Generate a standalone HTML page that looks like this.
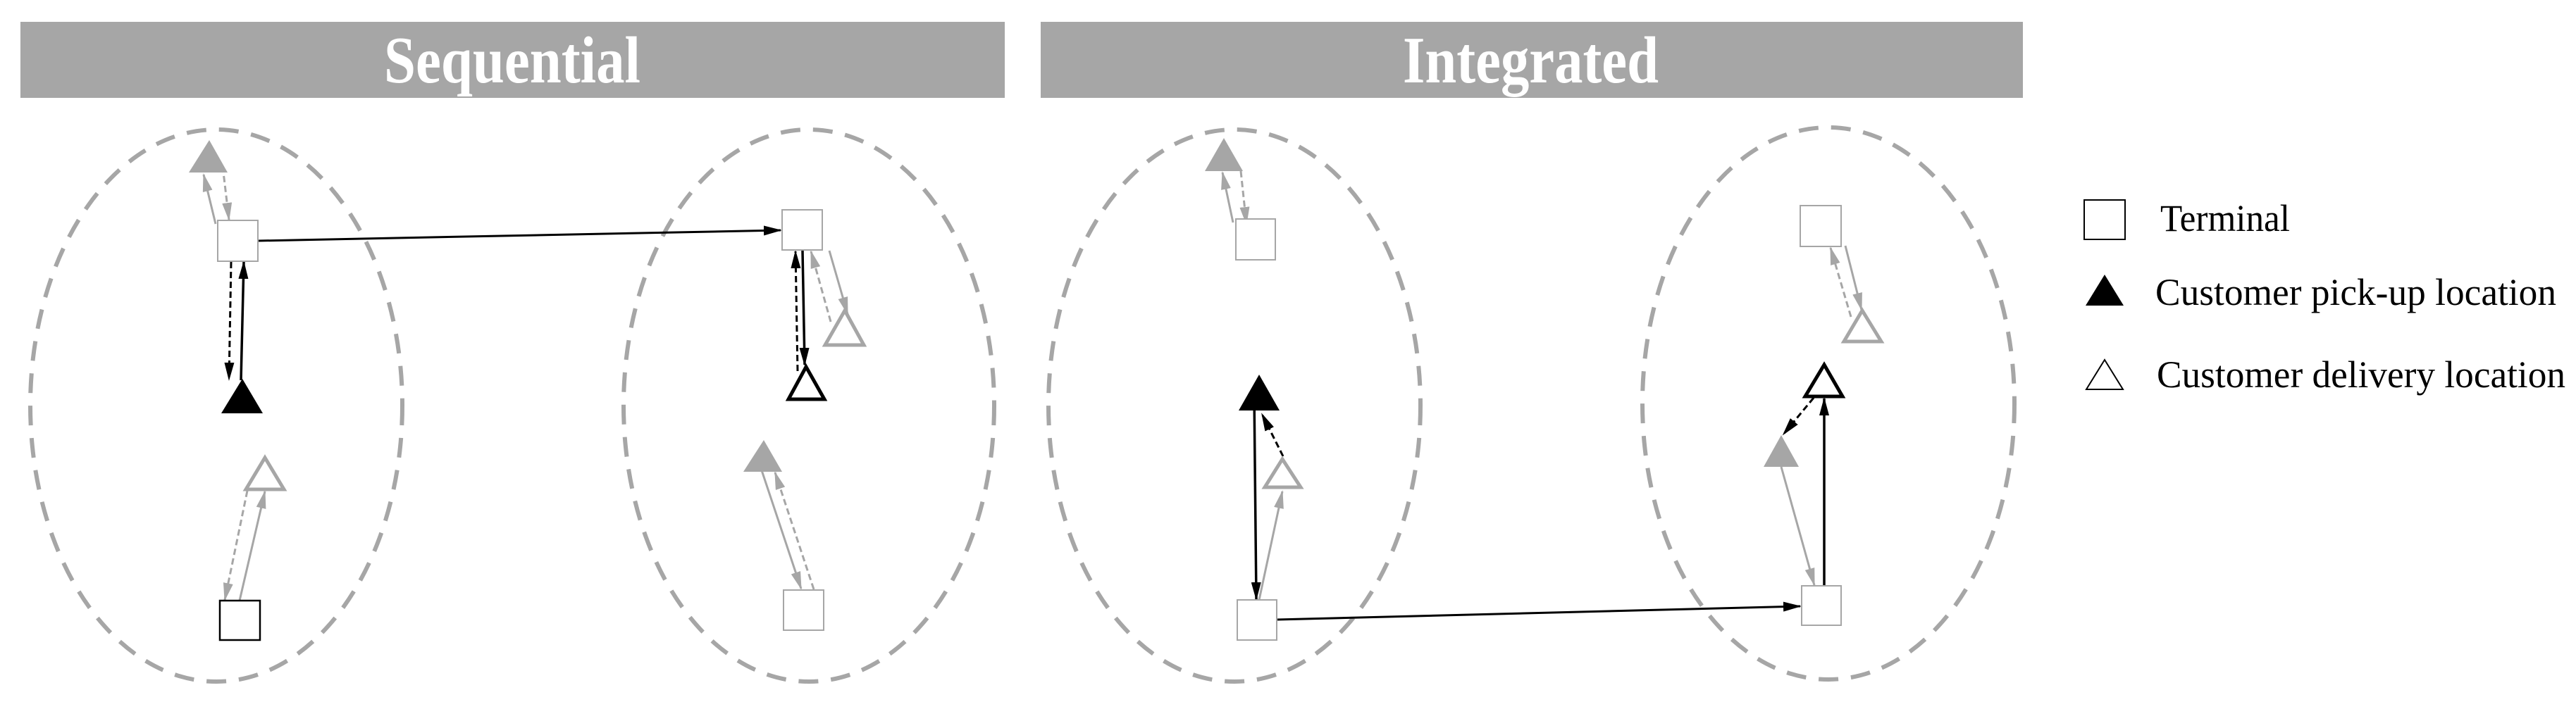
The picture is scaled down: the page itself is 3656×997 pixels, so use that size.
<!DOCTYPE html>
<html><head><meta charset="utf-8"><style>
html,body{margin:0;padding:0;background:#fff;}
svg{display:block;}
</style></head><body>
<svg width="3656" height="997" viewBox="0 0 3656 997" xmlns="http://www.w3.org/2000/svg">
<defs>
<marker id="ab" markerUnits="userSpaceOnUse" markerWidth="26" markerHeight="14" refX="24" refY="7" orient="auto"><path d="M0,0 L26,7 L0,14 Z" fill="#000"/></marker>
<marker id="ag" markerUnits="userSpaceOnUse" markerWidth="26" markerHeight="14" refX="24" refY="7" orient="auto"><path d="M0,0 L26,7 L0,14 Z" fill="#a6a6a6"/></marker>
</defs>
<rect x="29" y="31" width="1397" height="108" fill="#a6a6a6"/>
<rect x="1477" y="31" width="1394" height="108" fill="#a6a6a6"/>
<text x="545" y="117" textLength="364" lengthAdjust="spacingAndGlyphs" font-family="Liberation Serif, serif" font-weight="bold" font-size="94" fill="#fff">Sequential</text>
<text x="1991" y="117" textLength="363" lengthAdjust="spacingAndGlyphs" font-family="Liberation Serif, serif" font-weight="bold" font-size="94" fill="#fff">Integrated</text>

<g fill="none" stroke="#a6a6a6" stroke-width="6" stroke-dasharray="28,18">
<ellipse cx="307" cy="576" rx="264" ry="392"/>
<ellipse cx="1148" cy="576" rx="263" ry="392"/>
<ellipse cx="1752" cy="576" rx="264" ry="392"/>
<ellipse cx="2595" cy="573" rx="264" ry="392"/>
</g>

<!-- Sequential left -->
<line x1="306" y1="318" x2="289" y2="248" stroke="#a6a6a6" stroke-width="3" marker-end="url(#ag)"/>
<line x1="316" y1="236" x2="325" y2="312" stroke="#a6a6a6" stroke-width="3" stroke-dasharray="9,5" marker-end="url(#ag)"/>
<line x1="366" y1="342" x2="1108" y2="327" stroke="#000" stroke-width="3" marker-end="url(#ab)"/>
<line x1="328" y1="372" x2="325" y2="539" stroke="#000" stroke-width="3" stroke-dasharray="9,5" marker-end="url(#ab)"/>
<line x1="342" y1="540" x2="346" y2="372" stroke="#000" stroke-width="3.5" marker-end="url(#ab)"/>
<line x1="351" y1="697" x2="319" y2="852" stroke="#a6a6a6" stroke-width="3" stroke-dasharray="9,5" marker-end="url(#ag)"/>
<line x1="340" y1="853" x2="376" y2="698" stroke="#a6a6a6" stroke-width="3" marker-end="url(#ag)"/>
<polygon points="297,199 323,245 268,245" fill="#a6a6a6"/>
<rect x="309" y="313" width="57" height="58" fill="#fff" stroke="#a6a6a6" stroke-width="2"/>
<polygon points="344,538 373,587 314,587" fill="#000"/>
<polygon points="376,650 403,695 349,695" fill="#fff" stroke="#a6a6a6" stroke-width="5"/>
<rect x="312" y="853" width="57" height="56" fill="#fff" stroke="#000" stroke-width="2.5"/>

<!-- Sequential right -->
<line x1="1139" y1="356" x2="1142" y2="518" stroke="#000" stroke-width="3.5" marker-end="url(#ab)"/>
<line x1="1132" y1="527" x2="1129" y2="357" stroke="#000" stroke-width="3" stroke-dasharray="9,5" marker-end="url(#ab)"/>
<line x1="1177" y1="356" x2="1203" y2="446" stroke="#a6a6a6" stroke-width="3" marker-end="url(#ag)"/>
<line x1="1179" y1="457" x2="1151" y2="357" stroke="#a6a6a6" stroke-width="3" stroke-dasharray="9,5" marker-end="url(#ag)"/>
<line x1="1081" y1="668" x2="1137" y2="836" stroke="#a6a6a6" stroke-width="3" marker-end="url(#ag)"/>
<line x1="1155" y1="837" x2="1100" y2="671" stroke="#a6a6a6" stroke-width="3" stroke-dasharray="9,5" marker-end="url(#ag)"/>
<rect x="1110" y="298" width="57" height="57" fill="#fff" stroke="#a6a6a6" stroke-width="2"/>
<polygon points="1199,441 1226,490 1171,490" fill="#fff" stroke="#a6a6a6" stroke-width="5"/>
<polygon points="1144,521 1170,567 1119,567" fill="#fff" stroke="#000" stroke-width="5"/>
<polygon points="1084,625 1110,670 1055,670" fill="#a6a6a6"/>
<rect x="1112" y="838" width="57" height="57" fill="#fff" stroke="#a6a6a6" stroke-width="2"/>

<!-- Integrated left -->
<line x1="1750" y1="316" x2="1735" y2="245" stroke="#a6a6a6" stroke-width="3" marker-end="url(#ag)"/>
<line x1="1761" y1="243" x2="1769" y2="318" stroke="#a6a6a6" stroke-width="3" stroke-dasharray="9,5" marker-end="url(#ag)"/>
<line x1="1780" y1="560" x2="1783" y2="851" stroke="#000" stroke-width="3.5" marker-end="url(#ab)"/>
<line x1="1821" y1="648" x2="1791" y2="588" stroke="#000" stroke-width="3" stroke-dasharray="9,5" marker-end="url(#ab)"/>
<line x1="1787" y1="852" x2="1820" y2="698" stroke="#a6a6a6" stroke-width="3" marker-end="url(#ag)"/>
<line x1="1812" y1="880" x2="2555" y2="861" stroke="#000" stroke-width="3" marker-end="url(#ab)"/>
<polygon points="1737,196 1764,243 1710,243" fill="#a6a6a6"/>
<rect x="1754" y="311" width="56" height="58" fill="#fff" stroke="#a6a6a6" stroke-width="2"/>
<polygon points="1787,532 1816,583 1758,583" fill="#000"/>
<polygon points="1820,652 1846,692 1795,692" fill="#fff" stroke="#a6a6a6" stroke-width="5"/>
<rect x="1756" y="852" width="56" height="57" fill="#fff" stroke="#a6a6a6" stroke-width="2"/>

<!-- Integrated right -->
<line x1="2619" y1="349" x2="2642" y2="440" stroke="#a6a6a6" stroke-width="3" marker-end="url(#ag)"/>
<line x1="2627" y1="450" x2="2598" y2="352" stroke="#a6a6a6" stroke-width="3" stroke-dasharray="9,5" marker-end="url(#ag)"/>
<line x1="2589" y1="832" x2="2589" y2="566" stroke="#000" stroke-width="3.5" marker-end="url(#ab)"/>
<line x1="2574" y1="565" x2="2531" y2="617" stroke="#000" stroke-width="3" stroke-dasharray="9,5" marker-end="url(#ab)"/>
<line x1="2528" y1="663" x2="2575" y2="831" stroke="#a6a6a6" stroke-width="3" marker-end="url(#ag)"/>
<rect x="2555" y="292" width="58" height="58" fill="#fff" stroke="#a6a6a6" stroke-width="2"/>
<polygon points="2643,441 2670,485 2617,485" fill="#fff" stroke="#a6a6a6" stroke-width="5"/>
<polygon points="2589,518 2615,563 2562,563" fill="#fff" stroke="#000" stroke-width="5"/>
<polygon points="2528,618 2553,663 2503,663" fill="#a6a6a6"/>
<rect x="2557" y="832" width="56" height="56" fill="#fff" stroke="#a6a6a6" stroke-width="2"/>

<!-- Legend -->
<rect x="2958" y="284" width="58" height="56" fill="#fff" stroke="#000" stroke-width="2"/>
<polygon points="2987,390 3014,434 2960,434" fill="#000"/>
<polygon points="2987,511 3013,553 2961,553" fill="#fff" stroke="#000" stroke-width="2"/>
<g font-family="Liberation Serif, serif" font-size="54" fill="#000">
<text x="3066" y="328" textLength="184" lengthAdjust="spacingAndGlyphs">Terminal</text>
<text x="3059" y="433" textLength="569" lengthAdjust="spacingAndGlyphs">Customer pick-up location</text>
<text x="3061" y="550" textLength="580" lengthAdjust="spacingAndGlyphs">Customer delivery  location</text>
</g>
</svg>
</body></html>
